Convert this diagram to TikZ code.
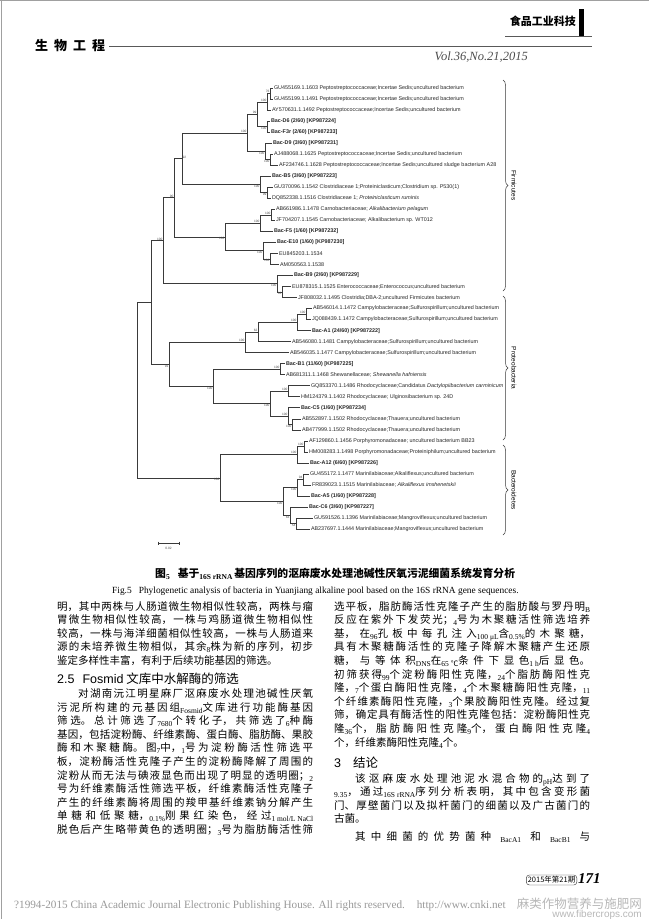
\documentclass[tikz,border=0pt]{standalone}
\usepackage{fontspec}
\usepackage{tikz}
\usetikzlibrary{decorations.pathreplacing,calc}
\setmainfont{Liberation Serif}
\newfontfamily\cjk{Noto Sans CJK SC}
\newfontfamily\treefont{Liberation Sans}
\XeTeXlinebreaklocale "zh"
\XeTeXlinebreakskip=0pt plus 6pt
\definecolor{inkgray}{HTML}{3A3A3A}
\definecolor{scangray}{HTML}{A0A0A0}
\newcommand{\lownum}[1]{\raisebox{-2pt}{\fontsize{7.5}{7.5}\selectfont\rmfamily #1}}
\newcommand{\bodytext}{\cjk\fontsize{10.5}{13.6}\selectfont}

\tikzset{
  branch/.style={draw=inkgray, line width=0.55pt},
  leaf/.style={anchor=west, inner sep=0.8pt, text=black!85, font=\treefont\fontsize{5.4}{6}\selectfont},
  bacleaf/.style={leaf, font=\treefont\bfseries\fontsize{5.4}{6}\selectfont},
  boot/.style={inner sep=0.4pt, text=black!70, font=\treefont\fontsize{3.2}{3.4}\selectfont},
  phylum/.style={rotate=-90, inner sep=1pt, font=\treefont\fontsize{6.5}{7}\selectfont},
  clade/.style={draw=inkgray, line width=0.5pt, decorate, decoration={brace, amplitude=5pt}},
  column/.style={anchor=base west, inner sep=0pt, text width=256pt, align=justify, font=\bodytext},
  heading/.style={anchor=base west, inner sep=0pt, font=\cjk\fontsize{12.5}{14}\selectfont},
}

\begin{document}
\begin{tikzpicture}[x=1pt, y=-1pt]
\useasboundingbox (0,0) rectangle (649,919);
\fill[white] (0,0) rectangle (649,919);
\draw[scangray, line width=1pt] (0,0.5) -- (649,0.5);
\draw[scangray, line width=1pt] (1.5,0) -- (1.5,919);

% running head
\node[anchor=west, inner sep=0pt, font=\cjk\bfseries\fontsize{13}{13}\selectfont] (section) at (35,46) {生\hspace{6pt}物\hspace{6pt}工\hspace{6pt}程};
\coordinate (headR) at (592,46);
\draw[black!65, line width=0.6pt] ([xshift=4pt]section.east) -- (headR);
\node[anchor=base east, inner sep=0pt, text=black!70, font=\itshape\fontsize{12.5}{13}\selectfont] (volume) at (528,60) {Vol.36,No.21,2015};
\node[anchor=east, inner sep=0pt, font=\cjk\bfseries\fontsize{11}{11}\selectfont] (journal) at (576,21) {食品工业科技};
\fill[black] (579,9) rectangle (584,36);
\coordinate (rulesL) at (505,36);
\coordinate (rulesR) at (592,36);
\draw[black!65, line width=0.5pt] (rulesL) -- (rulesR);

% leaves
\node[leaf] (L1) at (273,88.0) {GU455169.1.1603 Peptostreptococcaceae;Incertae Sedis;uncultured bacterium};
\node[leaf] (L2) at (273,99.0) {GU455199.1.1491 Peptostreptococcaceae;Incertae Sedis;uncultured bacterium};
\node[leaf] (L3) at (271,110.1) {AY570631.1.1492 Peptostreptococcaceae;Incertae Sedis;uncultured bacterium};
\node[bacleaf] (L4) at (270,121.1) {Bac-D6 (2/60) [KP987224]};
\node[bacleaf] (L5) at (270,132.1) {Bac-F3r (2/60) [KP987233]};
\node[bacleaf] (L6) at (272,143.1) {Bac-D9 (3/60) [KP987231]};
\node[leaf] (L7) at (273,154.2) {AJ488068.1.1625 Peptostreptococcaceae;Incertae Sedis;uncultured bacterium};
\node[leaf] (L8) at (278,165.2) {AF234746.1.1628 Peptostreptococcaceae;Incertae Sedis;uncultured sludge bacterium A28};
\node[bacleaf] (L9) at (271,176.2) {Bac-B5 (3/60) [KP987223]};
\node[leaf] (L10) at (273,187.2) {GU370096.1.1542 Clostridiaceae 1;Proteiniclasticum;Clostridium sp. P530(1)};
\node[leaf] (L11) at (271,198.3) {DQ852338.1.1516 Clostridiaceae 1; \textit{Proteiniclasticum ruminis}};
\node[leaf] (L12) at (275,209.3) {AB661986.1.1478 Carnobacteriaceae; \textit{Alkalibacterium pelagum}};
\node[leaf] (L13) at (275,220.3) {JF704207.1.1545 Carnobacteriaceae; Alkalibacterium sp. WT012};
\node[bacleaf] (L14) at (273,231.3) {Bac-F5 (1/60) [KP987232]};
\node[bacleaf] (L15) at (276,242.4) {Bac-E10 (1/60) [KP987230]};
\node[leaf] (L16) at (278,253.4) {EU845203.1.1534};
\node[leaf] (L17) at (279,264.4) {AM050563.1.1538};
\node[bacleaf] (L18) at (293,275.4) {Bac-B9 (2/60) [KP987229]};
\node[leaf] (L19) at (291,286.5) {EU878315.1.1525 Enterococcaceae;Enterococcus;uncultured bacterium};
\node[leaf] (L20) at (297,297.5) {JF808032.1.1495 Clostridia;DBA-2;uncultured Firmicutes bacterium};
\node[leaf] (L21) at (312,308.5) {AB546014.1.1472 Campylobacteraceae;Sulfurospirillum;uncultured bacterium};
\node[leaf] (L22) at (311,319.5) {JQ088439.1.1472 Campylobacteraceae;Sulfurospirillum;uncultured bacterium};
\node[bacleaf] (L23) at (311,330.6) {Bac-A1 (24/60) [KP987222]};
\node[leaf] (L24) at (291,341.6) {AB546080.1.1481 Campylobacteraceae;Sulfurospirillum;uncultured bacterium};
\node[leaf] (L25) at (289,352.6) {AB546035.1.1477 Campylobacteraceae;Sulfurospirillum;uncultured bacterium};
\node[bacleaf] (L26) at (285,363.6) {Bac-B1 (11/60) [KP987225]};
\node[leaf] (L27) at (285,374.7) {AB681311.1.1468 Shewanellaceae; \textit{Shewanella hafniensis}};
\node[leaf] (L28) at (310,385.7) {GQ853370.1.1486 Rhodocyclaceae;Candidatus \textit{Dactylopiibacterium carminicum}};
\node[leaf] (L29) at (300,396.7) {HM124379.1.1402 Rhodocyclaceae; Ulginosibacterium sp. 24D};
\node[bacleaf] (L30) at (300,407.7) {Bac-C5 (1/60) [KP987234]};
\node[leaf] (L31) at (301,418.8) {AB552897.1.1502 Rhodocyclaceae;Thauera;uncultured bacterium};
\node[leaf] (L32) at (301,429.8) {AB477999.1.1502 Rhodocyclaceae;Thauera;uncultured bacterium};
\node[leaf] (L33) at (308,440.8) {AF129860.1.1456 Porphyromonadaceae; uncultured bacterium BB23};
\node[leaf] (L34) at (308,451.8) {HM008283.1.1498 Porphyromonadaceae;Proteiniphilum;uncultured bacterium};
\node[bacleaf] (L35) at (309,462.9) {Bac-A12 (6/60) [KP987226]};
\node[leaf] (L36) at (309,473.9) {GU455172.1.1477 Marinilabiaceae;Alkaliflexus;uncultured bacterium};
\node[leaf] (L37) at (311,484.9) {FR839023.1.1515 Marinilabiaceae; \textit{Alkaliflexus imshenetskii}};
\node[bacleaf] (L38) at (310,495.9) {Bac-A5 (1/60) [KP987228]};
\node[bacleaf] (L39) at (308,507.0) {Bac-C6 (3/60) [KP987227]};
\node[leaf] (L40) at (313,518.0) {GU591526.1.1396 Marinilabiaceae;Mangroviflexus;uncultured bacterium};
\node[leaf] (L41) at (310,529.0) {AB237697.1.1444 Marinilabiaceae;Mangroviflexus;uncultured bacterium};

% internal nodes
\coordinate (p1) at (270,93.5);
\coordinate (p2) at (267,101.8);
\coordinate (p3) at (267,126.6);
\coordinate (p4) at (257,114.2);
\coordinate (d1) at (270,159.7);
\coordinate (d2) at (265,151.4);
\coordinate (p5) at (247,132.8);
\coordinate (bb1) at (267,192.75);
\coordinate (bb) at (260,184.5);
\coordinate (nA) at (182,158.65);
\coordinate (ca1) at (271,214.8);
\coordinate (ca2) at (260,223.05);
\coordinate (e1) at (270,258.9);
\coordinate (e2) at (263,250.65);
\coordinate (nC) at (225,236.85);
\coordinate (nB) at (174,197.75);
\coordinate (sb) at (282,292.0);
\coordinate (b9) at (277,283.7);
\coordinate (firm) at (163,240.7);
\coordinate (c1) at (306,314.0);
\coordinate (c2) at (297,322.3);
\coordinate (c3) at (258,331.95);
\coordinate (c4) at (245,342.3);
\coordinate (sh) at (280,369.15);
\coordinate (r1) at (288,391.2);
\coordinate (r2) at (292,424.3);
\coordinate (r3) at (288,416.0);
\coordinate (r4) at (270,403.6);
\coordinate (pr2) at (213,386.4);
\coordinate (prot) at (169,364.35);
\coordinate (top) at (151,302.5);
\coordinate (po1) at (304,446.3);
\coordinate (po2) at (297,454.6);
\coordinate (m1) at (303,479.4);
\coordinate (m2) at (297,487.65);
\coordinate (m3) at (296,523.5);
\coordinate (m4) at (290,515.25);
\coordinate (m5) at (283,501.45);
\coordinate (bact) at (220,478.0);
\coordinate (root) at (137,390.25);

% branches
\draw[branch] (p1) |- (L1.west) (p1) |- (L2.west);
\draw[branch] (p2) |- (p1) (p2) |- (L3.west);
\draw[branch] (p3) |- (L4.west) (p3) |- (L5.west);
\draw[branch] (p4) |- (p2) (p4) |- (p3);
\draw[branch] (d1) |- (L7.west) (d1) |- (L8.west);
\draw[branch] (d2) |- (L6.west) (d2) |- (d1);
\draw[branch] (p5) |- (p4) (p5) |- (d2);
\draw[branch] (bb1) |- (L10.west) (bb1) |- (L11.west);
\draw[branch] (bb) |- (L9.west) (bb) |- (bb1);
\draw[branch] (nA) |- (p5) (nA) |- (bb);
\draw[branch] (ca1) |- (L12.west) (ca1) |- (L13.west);
\draw[branch] (ca2) |- (ca1) (ca2) |- (L14.west);
\draw[branch] (e1) |- (L16.west) (e1) |- (L17.west);
\draw[branch] (e2) |- (L15.west) (e2) |- (e1);
\draw[branch] (nC) |- (ca2) (nC) |- (e2);
\draw[branch] (nB) |- (nA) (nB) |- (nC);
\draw[branch] (sb) |- (L19.west) (sb) |- (L20.west);
\draw[branch] (b9) |- (L18.west) (b9) |- (sb);
\draw[branch] (firm) |- (nB) (firm) |- (b9);
\draw[branch] (c1) |- (L21.west) (c1) |- (L22.west);
\draw[branch] (c2) |- (c1) (c2) |- (L23.west);
\draw[branch] (c3) |- (c2) (c3) |- (L24.west);
\draw[branch] (c4) |- (c3) (c4) |- (L25.west);
\draw[branch] (sh) |- (L26.west) (sh) |- (L27.west);
\draw[branch] (r1) |- (L28.west) (r1) |- (L29.west);
\draw[branch] (r2) |- (L31.west) (r2) |- (L32.west);
\draw[branch] (r3) |- (L30.west) (r3) |- (r2);
\draw[branch] (r4) |- (r1) (r4) |- (r3);
\draw[branch] (pr2) |- (sh) (pr2) |- (r4);
\draw[branch] (prot) |- (c4) (prot) |- (pr2);
\draw[branch] (top) |- (firm) (top) |- (prot);
\draw[branch] (po1) |- (L33.west) (po1) |- (L34.west);
\draw[branch] (po2) |- (po1) (po2) |- (L35.west);
\draw[branch] (m1) |- (L36.west) (m1) |- (L37.west);
\draw[branch] (m2) |- (m1) (m2) |- (L38.west);
\draw[branch] (m3) |- (L40.west) (m3) |- (L41.west);
\draw[branch] (m4) |- (L39.west) (m4) |- (m3);
\draw[branch] (m5) |- (m2) (m5) |- (m4);
\draw[branch] (bact) |- (po2) (bact) |- (m5);
\draw[branch] (root) |- (top) (root) |- (bact);

% bootstrap values
\node[boot, anchor=south east] (bs-p1) at (p1) {76};
\node[boot, anchor=south east] (bs-p2) at (p2) {100};
\node[boot, anchor=north east] (bs-p3) at (p3) {100};
\node[boot, anchor=south east] (bs-p4) at (p4) {99};
\node[boot, anchor=north east] (bs-d1) at (d1) {100};
\node[boot, anchor=north east] (bs-d2) at (d2) {100};
\node[boot, anchor=south east] (bs-p5) at (p5) {100};
\node[boot, anchor=north east] (bs-bb1) at (bb1) {99};
\node[boot, anchor=north east] (bs-bb) at (bb) {100};
\node[boot, anchor=south west] (bs-nA) at (nA) {92};
\node[boot, anchor=south east] (bs-ca1) at (ca1) {100};
\node[boot, anchor=south east] (bs-ca2) at (ca2) {100};
\node[boot, anchor=north east] (bs-e1) at (e1) {100};
\node[boot, anchor=north east] (bs-e2) at (e2) {100};
\node[boot, anchor=north east] (bs-nC) at (nC) {100};
\node[boot, anchor=south east] (bs-nB) at (nB) {90};
\node[boot, anchor=north east] (bs-sb) at (sb) {63};
\node[boot, anchor=north east] (bs-b9) at (b9) {100};
\node[boot, anchor=south east] (bs-firm) at (firm) {100};
\node[boot, anchor=south east] (bs-c1) at (c1) {100};
\node[boot, anchor=south east] (bs-c2) at (c2) {100};
\node[boot, anchor=south east] (bs-c3) at (c3) {62};
\node[boot, anchor=south east] (bs-c4) at (c4) {100};
\node[boot, anchor=south east] (bs-sh) at (sh) {100};
\node[boot, anchor=south east] (bs-r1) at (r1) {100};
\node[boot, anchor=north east] (bs-r2) at (r2) {100};
\node[boot, anchor=south east] (bs-r3) at (r3) {100};
\node[boot, anchor=north east] (bs-r4) at (r4) {100};
\node[boot, anchor=north east] (bs-pr2) at (pr2) {100};
\node[boot, anchor=north east] (bs-prot) at (prot) {91};
\node[boot, anchor=south east] (bs-po1) at (po1) {100};
\node[boot, anchor=south east] (bs-po2) at (po2) {100};
\node[boot, anchor=south east] (bs-m1) at (m1) {94};
\node[boot, anchor=north east] (bs-m2) at (m2) {100};
\node[boot, anchor=north east] (bs-m3) at (m3) {54};
\node[boot, anchor=north east] (bs-m4) at (m4) {63};
\node[boot, anchor=north east] (bs-m5) at (m5) {100};
\node[boot, anchor=north east] (bs-bact) at (bact) {100};

% phylum braces
\coordinate (firmT) at (503,80);
\coordinate (firmB) at (503,291);
\coordinate (protT) at (503,296);
\coordinate (protB) at (503,440);
\coordinate (bactT) at (503,445);
\coordinate (bactB) at (503,535);
\draw[clade] (firmT) -- (firmB);
\draw[clade] (protT) -- (protB);
\draw[clade] (bactT) -- (bactB);
\node[phylum] (firmicutes) at (514,185.5) {Firmicutes};
\node[phylum] (proteobacteria) at (514,368) {Proteobacteria};
\node[phylum] (bacteroidetes) at (514,490) {Bacteroidetes};

% scale bar
\coordinate (barL) at (158,543);
\coordinate (barR) at (179,543);
\draw[branch] (barL) -- (barR);
\draw[branch] ([yshift=1.5pt]barL) -- ([yshift=-1.5pt]barL);
\draw[branch] ([yshift=1.5pt]barR) -- ([yshift=-1.5pt]barR);
\node[boot, anchor=north] (barlabel) at ([yshift=-4pt]$(barL)!0.5!(barR)$) {0.02};

% captions
\node[anchor=base west, inner sep=0pt, font=\cjk\bfseries\fontsize{10.8}{11}\selectfont] (caption) at (155,577) {图\lownum{5}\hspace{8pt}基于\lownum{16S rRNA}\,基因序列的沤麻废水处理池碱性厌氧污泥细菌系统发育分析};
\node[anchor=base west, inner sep=0pt, font=\fontsize{9.4}{10}\selectfont] (figcap) at (112,593) {Fig.5\hspace{7pt}Phylogenetic analysis of bacteria in Yuanjiang alkaline pool based on the 16S rRNA gene sequences.};

% left column
\node[column] (leftA) at (57,610) {明，其中两株与人肠道微生物相似性较高，两株与瘤\linebreak
胃微生物相似性较高，一株与鸡肠道微生物相似性\linebreak
较高，一株与海洋细菌相似性较高，一株与人肠道来\linebreak
源的未培养微生物相似，其余\lownum{8}株为新的序列，初步\linebreak
鉴定多样性丰富，有利于后续功能基因的筛选。};
\node[heading] (sec25) at (57,683) {{\treefont 2.5\hspace{8pt}Fosmid} 文库中水解酶的筛选};
\node[column] (leftB) at (57,697.5) {\hspace*{2em}对湖南沅江明星麻厂沤麻废水处理池碱性厌氧\linebreak
污泥所构建的元基因组\lownum{Fosmid}文库进行功能酶基因\linebreak
筛选。总计筛选了\lownum{7680}个转化子，共筛选了\lownum{6}种酶\linebreak
基因，包括淀粉酶、纤维素酶、蛋白酶、脂肪酶、果胶\linebreak
酶和木聚糖酶。图\lownum{7}中，\lownum{1}号为淀粉酶活性筛选平\linebreak
板，淀粉酶活性克隆子产生的淀粉酶降解了周围的\linebreak
淀粉从而无法与碘液显色而出现了明显的透明圈；\lownum{2}\linebreak
号为纤维素酶活性筛选平板，纤维素酶活性克隆子\linebreak
产生的纤维素酶将周围的羧甲基纤维素钠分解产生\linebreak
单糖和低聚糖，\lownum{0.1\%}刚果红染色，经过\lownum{1 mol/L NaCl}\linebreak
脱色后产生略带黄色的透明圈；\lownum{3}号为脂肪酶活性筛\linebreak\mbox{}};

% right column
\node[column] (rightA) at (334,610) {选平板，脂肪酶活性克隆子产生的脂肪酸与罗丹明\lownum{B}\linebreak
反应在紫外下发荧光；\lownum{4}号为木聚糖活性筛选培养\linebreak
基，在\lownum{96}孔板中每孔注入\lownum{100 μL}含\lownum{0.5\%}的木聚糖，\linebreak
具有木聚糖酶活性的克隆子降解木聚糖产生还原\linebreak
糖，与等体积\lownum{DNS}在\lownum{65 {\cjk ℃}}条件下显色\lownum{1 h}后显色。\linebreak
初筛获得\lownum{99}个淀粉酶阳性克隆，\lownum{24}个脂肪酶阳性克\linebreak
隆，\lownum{7}个蛋白酶阳性克隆，\lownum{4}个木聚糖酶阳性克隆，\lownum{11}\linebreak
个纤维素酶阳性克隆，\lownum{3}个果胶酶阳性克隆。经过复\linebreak
筛，确定具有酶活性的阳性克隆包括：淀粉酶阳性克\linebreak
隆\lownum{36}个，脂肪酶阳性克隆\lownum{9}个，蛋白酶阳性克隆\lownum{4}\linebreak
个，纤维素酶阳性克隆\lownum{4}个。};
\node[heading] (sec3) at (334,767) {{\treefont 3}\hspace{12pt}结论};
\node[column] (rightB) at (334,782) {\hspace*{2em}该沤麻废水处理池泥水混合物的\lownum{pH}达到了\linebreak
\lownum{9.35}，通过\lownum{16S rRNA}序列分析表明，其中包含变形菌\linebreak
门、厚壁菌门以及拟杆菌门的细菌以及广古菌门的\linebreak
古菌。};
\node[column] (rightC) at (334,840) {\hspace*{2em}其中细菌的优势菌种\hspace{4pt plus 6pt}\lownum{BacA1}\hspace{4pt plus 6pt}和\hspace{4pt plus 6pt}\lownum{BacB1}\hspace{4pt plus 6pt}与\linebreak\mbox{}};

% folio
\node[draw=black!80, rounded corners=3pt, inner sep=1.5pt, anchor=east, font=\cjk\fontsize{7.5}{8}\selectfont] (issue) at (577,880) {2015年第21期};
\node[anchor=west, inner sep=0pt, font=\bfseries\itshape\fontsize{15}{15}\selectfont] (folio) at (578,879) {171};

% footer
\node[anchor=base west, inner sep=0pt, text=black!40, font=\fontsize{11.2}{11}\selectfont] (copyright) at (14,908) {?1994-2015 China Academic Journal Electronic Publishing House. All rights reserved.\hspace{12pt}http://www.cnki.net};
\node[anchor=base east, inner sep=0pt, text=black!28, font=\cjk\fontsize{12.5}{12}\selectfont] (mark) at (642,908) {麻类作物营养与施肥网};
\node[anchor=base east, inner sep=0pt, text=black!28, font=\treefont\fontsize{10}{10}\selectfont] (markurl) at (642,917) {www.fibercrops.com};
\end{tikzpicture}
\end{document}
